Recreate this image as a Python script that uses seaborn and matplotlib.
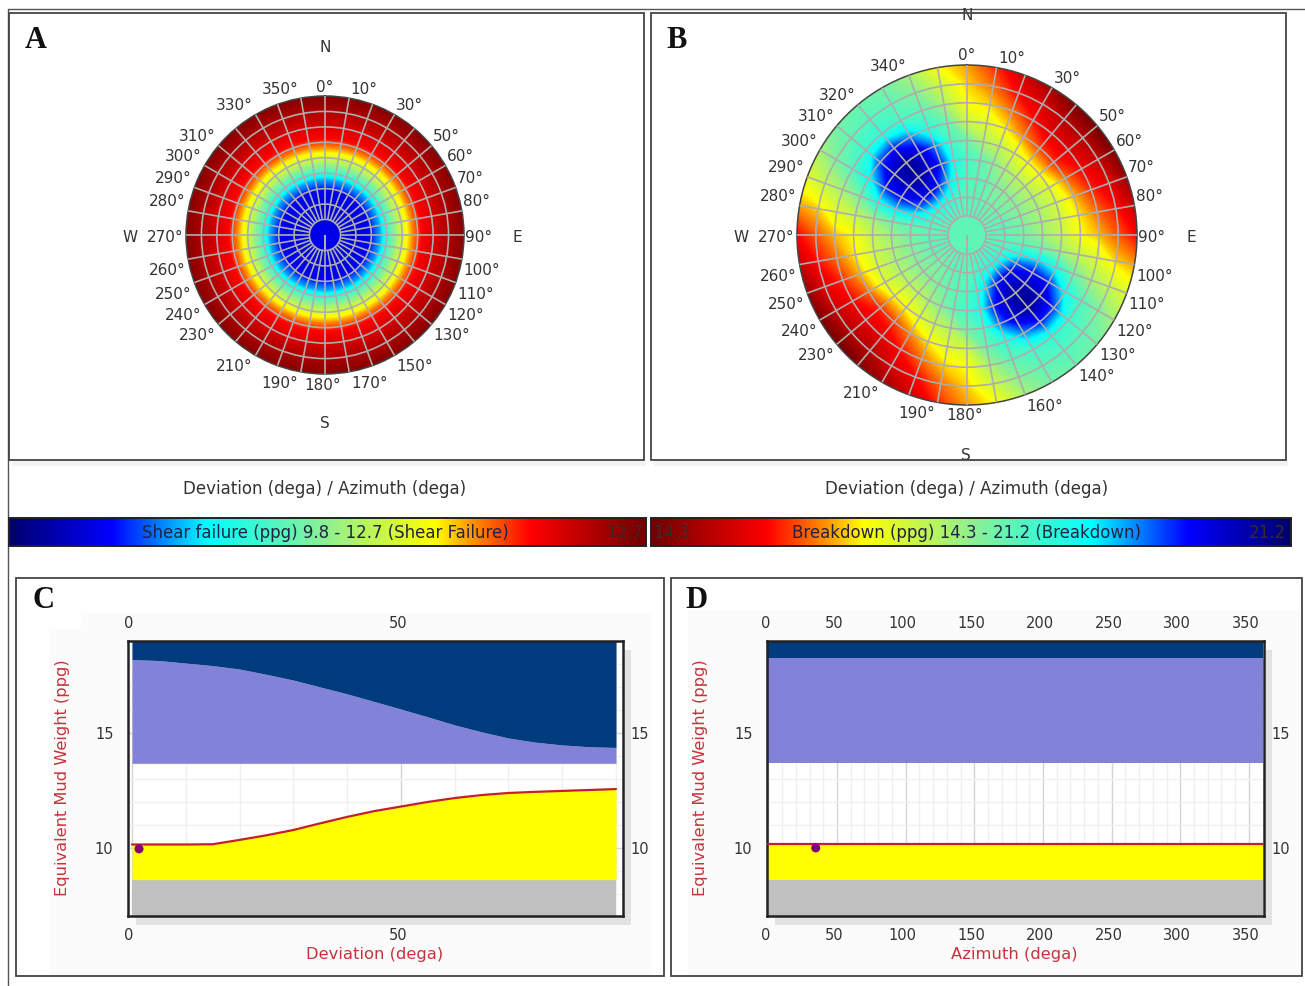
import numpy as np
import matplotlib
matplotlib.use("Agg")
import matplotlib.pyplot as plt
import seaborn as sns
from matplotlib.colors import LinearSegmentedColormap
from matplotlib.patches import Rectangle
from matplotlib.transforms import ScaledTranslation

sns.set_style("white")

W, H = 1305, 986

# polar plot A: shear failure (ppg) against deviation, same at every azimuth
shear_dev = [0, 10, 20, 30, 32, 36, 38, 44, 50, 53, 57, 63, 71, 82, 90]
shear_ppg = [10.19, 10.19, 10.15, 10.24, 10.38, 10.55, 10.70, 11.16, 11.54, 11.71,
             11.92, 12.18, 12.32, 12.50, 12.61]

# polar plot B: breakdown (ppg), rows are deviation, columns azimuth 0..170
# the other half of the circle repeats these columns
break_dev = [10, 20, 30, 40, 50, 60, 70, 80, 90]
break_az = list(range(0, 180, 10))
break_center = 18.2
break_ppg = [
    [18.2, 18.2, 18.2, 18.2, 18.2, 18.2, 18.2, 18.2, 18.2, 18.2, 18.2, 18.2, 18.2, 18.2, 18.2, 18.2, 18.2, 18.2],
    [18.2, 18.2, 18.2, 18.1, 18.0, 18.0, 18.1, 18.2, 18.2, 18.2, 18.3, 18.4, 18.5, 18.7, 18.7, 18.6, 18.5, 18.3],
    [18.3, 18.2, 18.1, 17.9, 17.8, 17.8, 17.8, 17.8, 17.9, 18.0, 18.2, 18.9, 19.7, 20.1, 20.2, 19.9, 19.3, 18.6],
    [18.4, 18.2, 17.8, 17.5, 17.3, 17.3, 17.4, 17.5, 17.5, 17.6, 18.0, 19.2, 20.1, 20.6, 20.9, 20.5, 19.9, 18.8],
    [18.0, 17.4, 17.2, 16.9, 16.6, 16.6, 16.9, 17.0, 17.1, 17.2, 17.6, 18.8, 19.9, 20.6, 20.9, 20.4, 19.6, 18.4],
    [17.1, 16.9, 16.5, 16.1, 15.8, 15.7, 16.0, 16.3, 16.5, 16.6, 17.2, 18.0, 18.9, 19.8, 20.0, 19.5, 18.6, 18.1],
    [16.6, 16.4, 16.0, 15.6, 15.3, 15.3, 15.5, 15.7, 16.0, 16.3, 16.9, 17.5, 18.3, 18.5, 18.6, 18.4, 18.2, 17.5],
    [16.4, 16.0, 15.5, 15.2, 14.9, 14.9, 15.0, 15.3, 15.6, 15.9, 16.4, 17.2, 17.9, 18.2, 18.3, 18.2, 17.8, 17.1],
    [16.2, 15.7, 15.1, 14.7, 14.4, 14.3, 14.4, 14.6, 15.0, 15.5, 16.2, 16.9, 17.5, 18.0, 18.1, 18.0, 17.5, 16.6],
]

az_labels_a = [0, 10, 30, 50, 60, 70, 80, 90, 100, 110, 120, 130, 150, 170, 180, 190,
               210, 230, 240, 250, 260, 270, 280, 290, 300, 310, 330, 350]
az_labels_b = [0, 10, 30, 50, 60, 70, 80, 90, 100, 110, 120, 130, 140, 160, 180, 190,
               210, 230, 240, 250, 260, 270, 280, 290, 300, 310, 320, 340]

# panel C: mud weight window against deviation
dev = [0, 5, 10, 15, 20, 25, 30, 35, 40, 45, 50, 55, 60, 65, 70, 75, 80, 85, 90]
breakdown_c = [18.19, 18.15, 18.04, 17.93, 17.78, 17.55, 17.3, 17.0, 16.7, 16.37,
               16.04, 15.7, 15.35, 15.05, 14.78, 14.6, 14.48, 14.4, 14.37]
shear_c = [10.15, 10.15, 10.15, 10.16, 10.35, 10.55, 10.78, 11.07, 11.35, 11.6,
           11.8, 12.0, 12.17, 12.3, 12.39, 12.44, 12.48, 12.52, 12.56]
marker_c = (1.3, 9.96)

# panel D: mud weight window against azimuth
azi = [0, 360]
breakdown_d = [18.25, 18.25]
shear_d = [10.15, 10.15]
marker_d = (34.5, 10.0)

loss_ppg = 13.68
kick_ppg = 8.62
ppg_lim = (7.04, 19.0)

NAVY = "#003c7d"
PERI = "#8282d8"
YELLOW = "#ffff00"
GREY = "#c0c0c0"
RED = "#c4202c"
LABEL_RED = "#c8323c"
TEXT = "#333333"
GRID = "#adadad"

# the program's rainbow, softer than jet in the greens
rainbow = LinearSegmentedColormap.from_list("rainbow_app", [
    (0.0, "#00006e"), (0.16, "#0000ff"), (0.31, "#00ffff"), (0.5, "#90f090"),
    (0.67, "#ffff00"), (0.73, "#ff9000"), (0.82, "#ff0000"), (1.0, "#700000")], N=512)
rainbow_r = rainbow.reversed()

fig = plt.figure(figsize=(W / 100, H / 100), dpi=100, facecolor="white")


def px_axes(x0, y0, x1, y1, **kw):
    return fig.add_axes([x0 / W, 1 - y1 / H, (x1 - x0) / W, (y1 - y0) / H], **kw)


# full page axes in pixels for frames, colour bars and loose text
bg = px_axes(0, 0, W, H, zorder=0)
bg.set_axis_off()


def frame(x0, y0, x1, y1, lw=1.3, color="#444444"):
    r = Rectangle((x0, y0), x1 - x0, y1 - y0, fill=False, ec=color, lw=lw, zorder=6)
    bg.add_patch(r)
    return r


def soft(x0, y0, x1, y1, color, z=1):
    bg.add_patch(Rectangle((x0, y0), x1 - x0, y1 - y0, fc=color, ec="none", zorder=z))


bg.plot([8, 1305], [9, 9], color="#555555", lw=1, zorder=2)
bg.plot([8, 8], [9, 986], color="#555555", lw=1, zorder=2)

# soft shadows below the top panels and around the lower plots
soft(12, 460, 646, 466, "#f2f2f2")
soft(654, 460, 1288, 466, "#f2f2f2")
soft(81, 613, 652, 975, "#fbfbfb")
soft(49, 629, 81, 975, "#fbfbfb")
soft(688, 610, 1301, 975, "#fbfbfb")
soft(136, 650, 631, 925, "#e2e2e2", 2)
soft(775, 650, 1272, 925, "#e2e2e2", 2)

frame_a = frame(9, 13, 644, 460)
frame_b = frame(651, 13, 1286, 460)
frame(16, 578, 664, 976)
frame(671, 578, 1302, 976)


def polar_panel(cx, cy, rad, az_grid, dev_grid, values, vmin, vmax, cmap, center, labels):
    ax = px_axes(cx - rad, cy - rad, cx + rad, cy + rad, projection="polar", zorder=3)
    ax.set_theta_zero_location("N")
    ax.set_theta_direction(-1)
    th, rr = np.meshgrid(np.radians(az_grid), dev_grid)
    ax.contourf(th, rr, values, levels=np.linspace(vmin, vmax, 256), cmap=cmap,
                vmin=vmin, vmax=vmax, extend="both", zorder=1)
    ax.set_rlim(0, 90)
    ax.set_rticks(range(10, 90, 10))
    ax.set_thetagrids(range(0, 360, 10), labels=[])
    ax.set_yticklabels([])
    ax.set_axisbelow(False)
    ax.grid(True, color=GRID, lw=1.2)
    col = cmap((center - vmin) / (vmax - vmin))
    ax.bar(0, 10, width=2 * np.pi, bottom=0, color=col, edgecolor=GRID, lw=1, zorder=5)
    ax.spines["polar"].set_color("#444444")
    ax.spines["polar"].set_linewidth(1.1)
    for az in labels:
        t = np.radians(az)
        if az == 0:
            off = (0, 9)
        elif az == 180:
            off = (-2, -11)
        elif az == 90:
            off = (15, -2)
        elif az == 270:
            off = (-21, -2)
        elif az < 90:
            off = (15, 9)
        elif az < 180:
            off = (20, -11.5)
        elif az < 270:
            off = (-21, -11.5)
        else:
            off = (-21, 9)
        ax.annotate(f"{az}°", xy=(t, 90), xytext=off, textcoords="offset pixels",
                    ha="center", va="center", fontsize=11, color=TEXT,
                    annotation_clip=False)
    return ax


# A
az_a = list(range(0, 370, 10))
grid_a = np.tile(np.array(shear_ppg)[:, None], (1, len(az_a)))
polar_panel(325, 235, 139, az_a, shear_dev, grid_a, 9.8, 12.7, rainbow, shear_ppg[0], az_labels_a)

# B
half = np.array(break_ppg)
ring0 = np.full((1, 36), break_center)
grid_b = np.vstack([ring0, np.hstack([half, half])])
grid_b = np.hstack([grid_b, grid_b[:, :1]])
az_b = break_az + [a + 180 for a in break_az] + [360]
polar_panel(967, 235, 170, az_b, [0] + break_dev, grid_b, 14.3, 21.2, rainbow_r, break_center, az_labels_b)

compass = [("N", 325, 48), ("S", 325, 424), ("E", 517, 237), ("W", 130, 237),
           ("N", 967, 16), ("S", 966, 456), ("E", 1191, 237), ("W", 741, 237)]
for i, (s, x, y) in enumerate(compass):
    t = bg.text(x, y, s, ha="center", va="center", fontsize=11, color=TEXT, zorder=5)
    if i >= 4:
        t.set_clip_path(frame_b)

for x in (325, 967):
    bg.text(x, 489, "Deviation (dega) / Azimuth (dega)", ha="center", va="center",
            fontsize=12, color=TEXT, zorder=5)

# colour bars
bar_l = np.linspace(9.8, 12.7, 256)[None, :]
bar_r = np.linspace(14.3, 21.2, 256)[None, :]
bg.imshow(bar_l, extent=(9, 646, 546, 518), cmap=rainbow, aspect="auto", zorder=3)
bg.imshow(bar_r, extent=(651, 1291, 546, 518), cmap=rainbow_r, aspect="auto", zorder=3)
frame(9, 518, 646, 546, lw=1.4, color="#222222")
frame(651, 518, 1291, 546, lw=1.4, color="#222222")
bar_text = [("Shear failure (ppg) 9.8 - 12.7 (Shear Failure)", 325), ("12.7", 625), ("14.3", 672),
            ("Breakdown (ppg) 14.3 - 21.2 (Breakdown)", 967), ("21.2", 1267)]
for s, x in bar_text:
    col = "#3a2a2a" if s in ("12.7", "21.2", "14.3") else "#222244"
    bg.text(x, 533, s, ha="center", va="center", fontsize=12, color=col, zorder=5)
bg.set_xlim(0, W)
bg.set_ylim(H, 0)

for s, x, y in [("A", 36, 40), ("B", 677, 40), ("C", 43, 600), ("D", 696, 600)]:
    bg.text(x, y, s, ha="center", va="center", fontsize=22, fontweight="bold",
            family="Liberation Serif", color="#111111", zorder=5)

for s, x, y in [("Deviation (dega)", 375, 955), ("Azimuth (dega)", 1014, 955)]:
    bg.text(x, y, s, ha="center", va="center", fontsize=11.8, color=LABEL_RED, zorder=5)
for x in (62, 700):
    bg.text(x, 778, "Equivalent Mud Weight (ppg)", ha="center", va="center", rotation=90,
            fontsize=11.7, color=LABEL_RED, zorder=5)


def window_panel(box, x, top, low, marker, xlim, major, minor):
    ax = px_axes(*box, zorder=3)
    x = np.array(x)
    ax.fill_between(x, ppg_lim[0], kick_ppg, color=GREY, lw=0, zorder=2)
    ax.fill_between(x, kick_ppg, low, color=YELLOW, lw=0, zorder=2)
    ax.fill_between(x, loss_ppg, top, color=PERI, lw=0, zorder=2)
    ax.fill_between(x, top, ppg_lim[1], color=NAVY, lw=0, zorder=2)
    sns.lineplot(x=x, y=low, color=RED, lw=1.6, errorbar=None, ax=ax, zorder=3)
    sns.scatterplot(x=[marker[0]], y=[marker[1]], color="#800080", s=42, edgecolor="none",
                    ax=ax, zorder=4)
    ax.set_xlim(*xlim)
    ax.set_ylim(*ppg_lim)
    ax.set_xticks(major)
    ax.set_xticks(minor, minor=True)
    ax.set_yticks([10, 15])
    ax.set_yticks(range(8, 19), minor=True)
    ax.set_axisbelow(True)
    ax.grid(True, which="major", color="#d4d4d4", lw=1)
    ax.grid(True, which="minor", color="#f0f0f0", lw=1)
    ax.tick_params(which="both", length=0, labeltop=True, labelright=True, labelsize=10.5,
                   labelcolor=TEXT, pad=9)
    bottom_shift = ScaledTranslation(-0.03, 0.01, fig.dpi_scale_trans)
    top_shift = ScaledTranslation(-0.03, -0.03, fig.dpi_scale_trans)
    for tick in ax.xaxis.get_major_ticks():
        tick.label1.set_transform(tick.label1.get_transform() + bottom_shift)
        tick.label2.set_transform(tick.label2.get_transform() + top_shift)
    for tick in ax.yaxis.get_major_ticks():
        tick.label1.set_transform(tick.label1.get_transform() + ScaledTranslation(-0.02, 0, fig.dpi_scale_trans))
        tick.label2.set_transform(tick.label2.get_transform() + ScaledTranslation(-0.05, 0, fig.dpi_scale_trans))
    for s in ax.spines.values():
        s.set_visible(True)
        s.set_color("#222222")
        s.set_linewidth(1.8)
    return ax


window_panel((128, 641, 623, 916), dev, breakdown_c, shear_c, marker_c, (-0.75, 91.3),
             [0, 50], range(10, 100, 10))
window_panel((767, 641, 1264, 916), azi, breakdown_d, shear_d, marker_d, (-1, 361),
             range(0, 400, 50), range(0, 360, 10))

fig.savefig("out.png", dpi=100)
